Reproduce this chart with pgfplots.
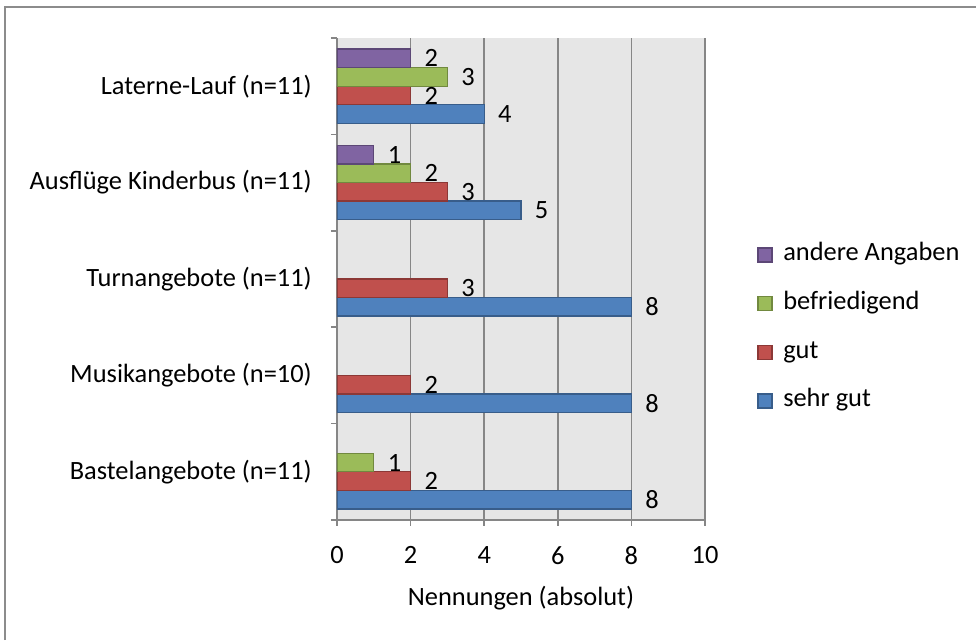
\documentclass[border=0pt]{standalone}
\usepackage{fontspec}
\setmainfont{Carlito}
\usepackage{pgfplots}
\pgfplotsset{compat=1.18}
\definecolor{sgBlue}{HTML}{4F81BD}
\definecolor{sgBlueD}{HTML}{385D8A}
\definecolor{sgRed}{HTML}{C0504D}
\definecolor{sgRedD}{HTML}{8C3836}
\definecolor{sgGreen}{HTML}{9BBB59}
\definecolor{sgGreenD}{HTML}{71893F}
\definecolor{sgPurple}{HTML}{8064A2}
\definecolor{sgPurpleD}{HTML}{5C4776}
\definecolor{bgGray}{HTML}{E6E6E6}
\definecolor{gridGray}{HTML}{868686}
\definecolor{frameGray}{HTML}{8C8C8C}
\newcommand{\fs}{\fontsize{19.8}{23}\selectfont}
\begin{document}
\begin{tikzpicture}[font=\fs]
\fill[white] (0,0) rectangle (732pt,480pt);
\draw[color=frameGray, line width=1.5pt] (3.75pt,0) -- (3.75pt,474.75pt) -- (732pt,474.75pt);
\begin{axis}[
  at={(252.75pt,90pt)}, anchor=south west,
  scale only axis, width=276pt, height=361.5pt,
  xbar=0pt, bar width=13.9pt,
  xmin=0, xmax=10, ymin=-0.5, ymax=4.5,
  xtick={0,2,...,10},
  ytick={-0.5,0.5,1.5,2.5,3.5,4.5},
  yticklabels={},
  extra y ticks={0,1,2,3,4},
  extra y tick labels={Bastelangebote (n=11), Musikangebote (n=10), Turnangebote (n=11), Ausflüge Kinderbus (n=11), Laterne-Lauf (n=11)},
  extra y tick style={major tick length=0pt, tick style={draw=none}},
  axis x line*=bottom, axis y line*=left,
  axis line style={draw=gridGray, line width=1.2pt, -},
  tick align=outside, major tick length=4.5pt,
  tick style={draw=gridGray, line width=1.2pt},
  xmajorgrids, ymajorgrids=false,
  major grid style={draw=gridGray, line width=1.2pt},
  axis background/.style={fill=bgGray},
  /pgf/number format/assume math mode=true,
  ticklabel style={font=\fs, text=black},
  yticklabel style={anchor=east, inner sep=0pt, xshift=-18.75pt},
  xticklabel style={anchor=center, inner sep=0pt, yshift=-22pt},
  xlabel={Nennungen (absolut)},
  xlabel style={at={(axis description cs:0.5,0)}, anchor=center, yshift=-58.5pt, font=\fs},
  nodes near coords,
  every node near coord/.append style={anchor=west, inner sep=0pt, xshift=10pt, font=\fs, text=black},
  reverse legend,
  legend style={at={(1.1413,0.3986)}, anchor=west, draw=none, fill=none, inner sep=0pt,
    row sep=19.5pt, font=\fs,
    nodes={inner sep=0pt, text height=13pt, text depth=4pt}},
  legend cell align=left,
  legend image code/.code={\draw[#1, line width=1pt] (1.5pt,-5.25pt) rectangle (12pt,5.25pt); \path (20pt,0pt);},
]
\addplot[fill=sgBlue, draw=sgBlueD, line width=1pt] coordinates {(8,0) (8,1) (8,2) (5,3) (4,4)};
\addplot[fill=sgRed, draw=sgRedD, line width=1pt] coordinates {(2,0) (2,1) (3,2) (3,3) (2,4)};
\addplot[fill=sgGreen, draw=sgGreenD, line width=1pt] coordinates {(1,0) (2,3) (3,4)};
\addplot[fill=sgPurple, draw=sgPurpleD, line width=1pt] coordinates {(1,3) (2,4)};
\legend{sehr gut, gut, befriedigend, andere Angaben}
\end{axis}
\pgfresetboundingbox
\path[use as bounding box] (0,0) rectangle (732pt,480pt);
\end{tikzpicture}
\end{document}
